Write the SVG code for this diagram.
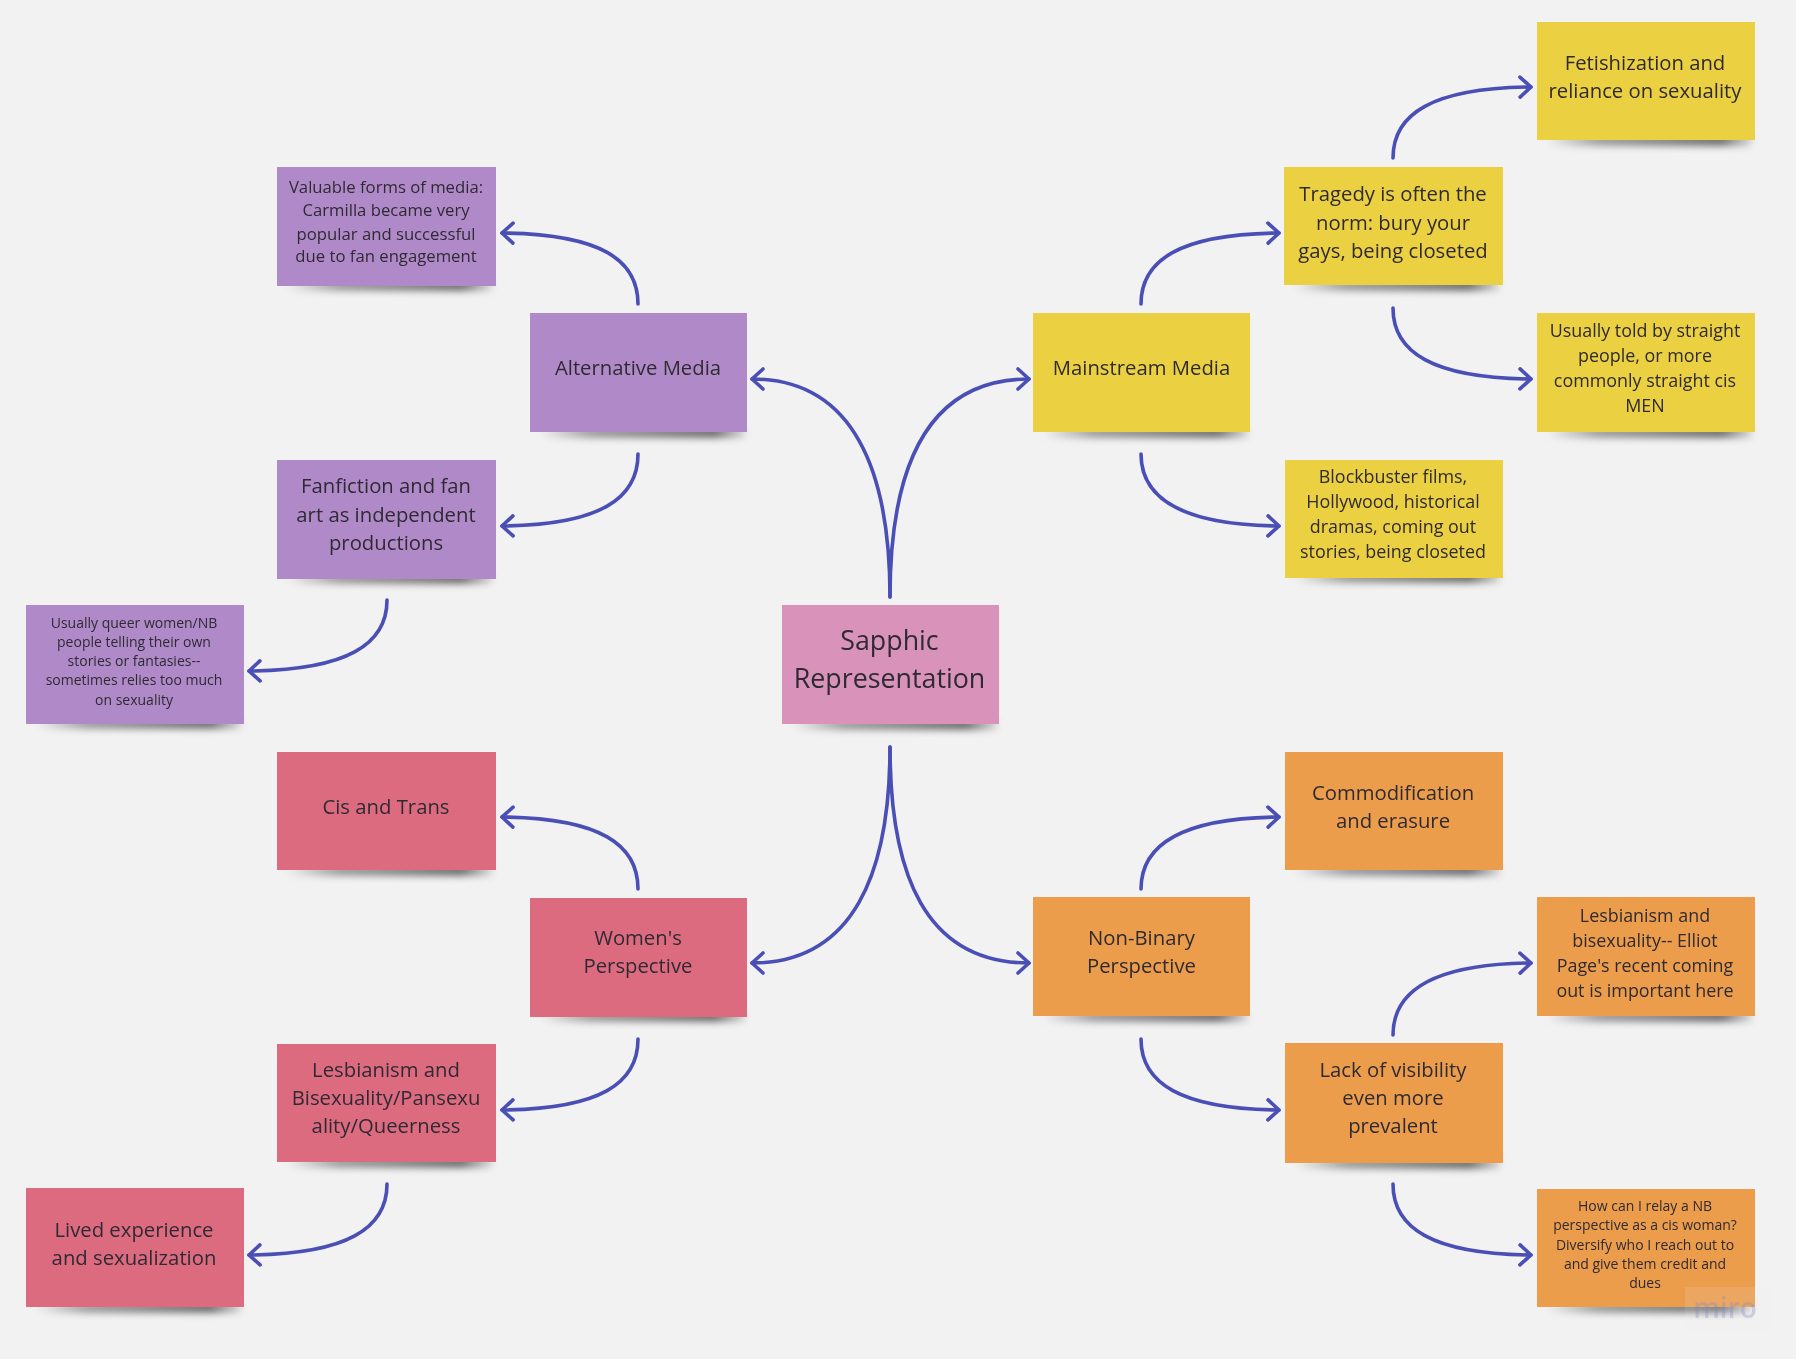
<svg xmlns="http://www.w3.org/2000/svg" width="1796" height="1359" viewBox="0 0 1796 1359">
<defs>
<filter id="soft" x="-20%" y="-100%" width="140%" height="300%"><feGaussianBlur stdDeviation="3.5"/></filter>
<filter id="blur" x="-5%" y="-5%" width="110%" height="110%"><feGaussianBlur stdDeviation="0.45"/></filter>
<linearGradient id="sh"><stop offset="0" stop-color="#000" stop-opacity="0"/><stop offset=".25" stop-color="#000" stop-opacity=".35"/><stop offset=".85" stop-color="#000" stop-opacity=".55"/><stop offset="1" stop-color="#000" stop-opacity=".1"/></linearGradient>
<marker id="arrow" viewBox="0 0 16 24" refX="13" refY="12" markerWidth="16" markerHeight="24" markerUnits="userSpaceOnUse" orient="auto"><path d="M2 2 L13 12 L2 22" fill="none" stroke="#4a4fb5" stroke-width="3.6" stroke-linecap="round" stroke-linejoin="round"/></marker>
</defs>
<style>
text{font-family:"Open Sans","Noto Sans","Liberation Sans",sans-serif;fill:#2f2a33;text-anchor:middle;filter:url(#blur)}
.shadow{fill:url(#sh);filter:url(#soft)}
.pink{fill:#d992b9}.purple{fill:#b08ac8}.yellow{fill:#ebd141}.red{fill:#dc6b80}.orange{fill:#eb9d4c}
.c{fill:none;stroke:#4a4fb5;stroke-width:3.6;stroke-linecap:round;marker-end:url(#arrow)}
.t26{font-size:26.8px}.t20{font-size:20.3px}.t18{font-size:17.9px}.t17{font-size:16.7px}.t15{font-size:14px}
</style>
<rect width="1796" height="1359" fill="#f2f2f2"/>
<g id="connectors">
<path class="c" d="M890 597C890 470 925 379 1029 379"/>
<path class="c" d="M890 597C890 470 853 379 752 379"/>
<path class="c" d="M890 747C890 874 925 963 1029 963"/>
<path class="c" d="M890 747C890 874 853 963 752 963"/>
<path class="c" d="M1141 304C1141 260 1180 234 1279 233"/>
<path class="c" d="M1141 454C1141 498 1180 525 1279 526"/>
<path class="c" d="M1393 158C1393 114 1432 88 1531 87"/>
<path class="c" d="M1393 308C1393 352 1432 378 1531 379"/>
<path class="c" d="M638 304C638 260 601 234 502 233"/>
<path class="c" d="M638 454C638 498 601 525 502 526"/>
<path class="c" d="M387 600C387 644 348 670 249 671"/>
<path class="c" d="M638 889C638 845 601 818 502 817"/>
<path class="c" d="M638 1039C638 1083 601 1109 502 1110"/>
<path class="c" d="M387 1184C387 1228 348 1254 249 1255"/>
<path class="c" d="M1141 889C1141 845 1180 818 1279 817"/>
<path class="c" d="M1141 1039C1141 1083 1180 1109 1279 1110"/>
<path class="c" d="M1393 1035C1393 991 1432 964 1531 963"/>
<path class="c" d="M1393 1184C1393 1228 1432 1254 1531 1255"/>
</g>
<g id="n-center"><rect class="shadow" x="792" y="719" width="205" height="11"/><rect class="pink" x="782" y="605" width="217" height="119"/><text class="t26" x="889.5" y="650">Sapphic</text><text class="t26" x="889.5" y="688">Representation</text></g>
<g id="n-alt"><rect class="shadow" x="540" y="427" width="205" height="11"/><rect class="purple" x="530" y="313" width="217" height="119"/><text class="t20" x="638" y="375">Alternative Media</text></g>
<g id="n-main"><rect class="shadow" x="1043" y="427" width="205" height="11"/><rect class="yellow" x="1033" y="313" width="217" height="119"/><text class="t20" x="1141.5" y="375">Mainstream Media</text></g>
<g id="n-women"><rect class="shadow" x="540" y="1011" width="205" height="11"/><rect class="red" x="530" y="898" width="217" height="119"/><text class="t20" x="638" y="945">Women's</text><text class="t20" x="638" y="973">Perspective</text></g>
<g id="n-nb"><rect class="shadow" x="1043" y="1011" width="205" height="11"/><rect class="orange" x="1033" y="897" width="217" height="119"/><text class="t20" x="1141.5" y="945">Non-Binary</text><text class="t20" x="1141.5" y="973">Perspective</text></g>
<g id="n-valuable"><rect class="shadow" x="287" y="280" width="205" height="11"/><rect class="purple" x="277" y="167" width="219" height="119"/><text class="t17" x="386" y="193">Valuable forms of media:</text><text class="t17" x="386" y="216">Carmilla became very</text><text class="t17" x="386" y="240">popular and successful</text><text class="t17" x="386" y="262">due to fan engagement</text></g>
<g id="n-fanfic"><rect class="shadow" x="287" y="573" width="205" height="11"/><rect class="purple" x="277" y="460" width="219" height="119"/><text class="t20" x="386" y="493">Fanfiction and fan</text><text class="t20" x="386" y="522">art as independent</text><text class="t20" x="386" y="550">productions</text></g>
<g id="n-queer"><rect class="shadow" x="36" y="718" width="205" height="11"/><rect class="purple" x="26" y="605" width="218" height="119"/><text class="t15" x="134" y="628">Usually queer women/NB</text><text class="t15" x="134" y="647">people telling their own</text><text class="t15" x="134" y="666">stories or fantasies--</text><text class="t15" x="134" y="685">sometimes relies too much</text><text class="t15" x="134" y="705">on sexuality</text></g>
<g id="n-cis"><rect class="shadow" x="287" y="865" width="205" height="11"/><rect class="red" x="277" y="752" width="219" height="118"/><text class="t20" x="386" y="814">Cis and Trans</text></g>
<g id="n-lesb"><rect class="shadow" x="287" y="1157" width="205" height="11"/><rect class="red" x="277" y="1044" width="219" height="118"/><text class="t20" x="386" y="1077">Lesbianism and</text><text class="t20" x="386" y="1105">Bisexuality/Pansexu</text><text class="t20" x="386" y="1133">ality/Queerness</text></g>
<g id="n-lived"><rect class="shadow" x="36" y="1302" width="205" height="11"/><rect class="red" x="26" y="1188" width="218" height="119"/><text class="t20" x="134" y="1237">Lived experience</text><text class="t20" x="134" y="1265">and sexualization</text></g>
<g id="n-fetish"><rect class="shadow" x="1547" y="135" width="205" height="11"/><rect class="yellow" x="1537" y="22" width="218" height="118"/><text class="t20" x="1645" y="70">Fetishization and</text><text class="t20" x="1645" y="98">reliance on sexuality</text></g>
<g id="n-tragedy"><rect class="shadow" x="1294" y="280" width="205" height="11"/><rect class="yellow" x="1284" y="167" width="219" height="118"/><text class="t20" x="1393" y="201">Tragedy is often the</text><text class="t20" x="1393" y="230">norm: bury your</text><text class="t20" x="1393" y="258">gays, being closeted</text></g>
<g id="n-told"><rect class="shadow" x="1547" y="427" width="205" height="11"/><rect class="yellow" x="1537" y="313" width="218" height="119"/><text class="t18" x="1645" y="337">Usually told by straight</text><text class="t18" x="1645" y="362">people, or more</text><text class="t18" x="1645" y="387">commonly straight cis</text><text class="t18" x="1645" y="412">MEN</text></g>
<g id="n-block"><rect class="shadow" x="1295" y="572" width="205" height="11"/><rect class="yellow" x="1285" y="460" width="218" height="118"/><text class="t18" x="1393" y="483">Blockbuster films,</text><text class="t18" x="1393" y="508">Hollywood, historical</text><text class="t18" x="1393" y="533">dramas, coming out</text><text class="t18" x="1393" y="558">stories, being closeted</text></g>
<g id="n-comm"><rect class="shadow" x="1295" y="865" width="205" height="11"/><rect class="orange" x="1285" y="752" width="218" height="118"/><text class="t20" x="1393" y="800">Commodification</text><text class="t20" x="1393" y="828">and erasure</text></g>
<g id="n-page"><rect class="shadow" x="1547" y="1011" width="205" height="11"/><rect class="orange" x="1537" y="897" width="218" height="119"/><text class="t18" x="1645" y="922">Lesbianism and</text><text class="t18" x="1645" y="947">bisexuality-- Elliot</text><text class="t18" x="1645" y="972">Page's recent coming</text><text class="t18" x="1645" y="997">out is important here</text></g>
<g id="n-lack"><rect class="shadow" x="1295" y="1158" width="205" height="11"/><rect class="orange" x="1285" y="1043" width="218" height="120"/><text class="t20" x="1393" y="1077">Lack of visibility</text><text class="t20" x="1393" y="1105">even more</text><text class="t20" x="1393" y="1133">prevalent</text></g>
<g id="n-relay"><rect class="shadow" x="1547" y="1302" width="205" height="11"/><rect class="orange" x="1537" y="1189" width="218" height="118"/><text class="t15" x="1645" y="1211">How can I relay a NB</text><text class="t15" x="1645" y="1230">perspective as a cis woman?</text><text class="t15" x="1645" y="1250">Diversify who I reach out to</text><text class="t15" x="1645" y="1269">and give them credit and</text><text class="t15" x="1645" y="1288">dues</text></g>
<g id="watermark"><rect x="1685" y="1287" width="85" height="45" fill="#f2f2f2" opacity=".13"/><text x="1725" y="1318" style="font-size:28px;fill:#7d82c8;opacity:.3;font-weight:600">miro</text></g>
</svg>
